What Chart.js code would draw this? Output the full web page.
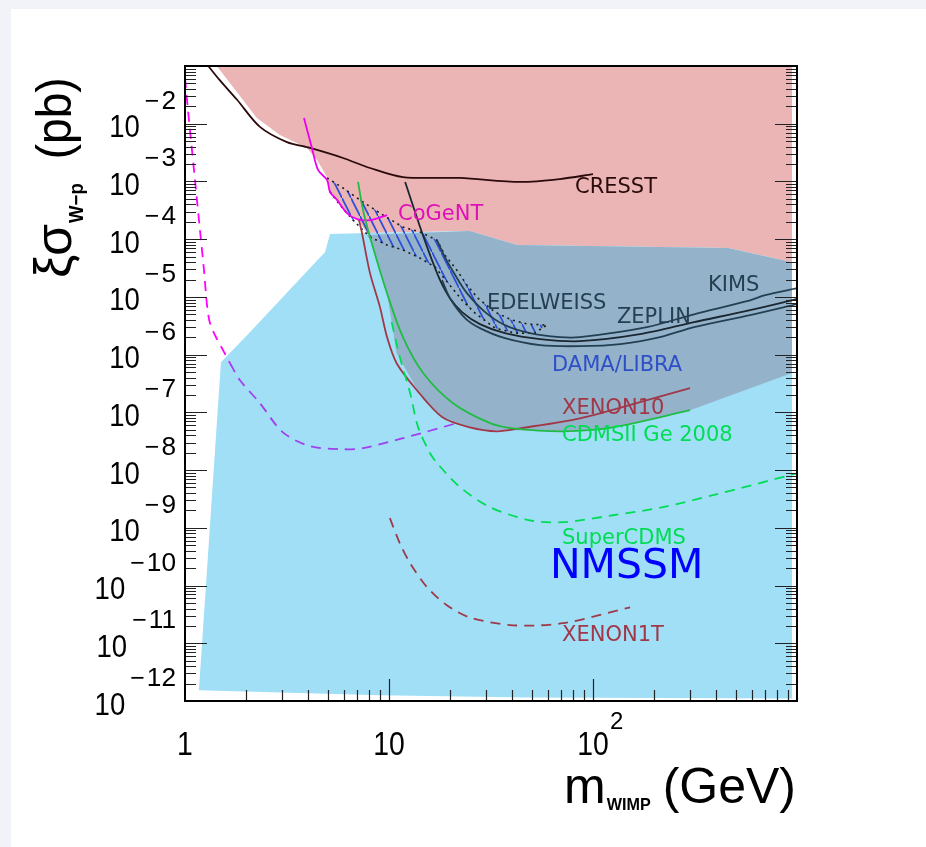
<!DOCTYPE html>
<html>
<head>
<meta charset="utf-8">
<script src="https://cdn.jsdelivr.net/npm/chart.js@4.4.0/dist/chart.umd.min.js"></script>
<style>
  html, body { margin: 0; padding: 0; background: #f2f2f9; }
  #panel { position: absolute; left: 11px; top: 9px; width: 915px; height: 838px; background: #fff; }
  #chart { position: absolute; left: 0; top: 0; }
</style>
</head>
<body>
<div id="panel"></div>
<canvas id="chart" width="926" height="847"></canvas>
<script>
// axis ranges and tick labels (powers of ten)
const xRange = [1, 1000];
const yRange = [1e-12, 1e-1];
const xLabelPowers = [0, 1, 2];
const yLabelPowers = [-2, -3, -4, -5, -6, -7, -8, -9, -10, -11, -12];

// shaded regions: mass (GeV), sigma (pb)
const excludedMass  = [1.43, 1.80, 2.25, 2.92, 3.96, 4.44, 4.97, 5.14, 5.56, 6.22, 6.97, 7.80, 24.9, 42.4, 459, 945, 945];
const excludedSigma = [1e-1, 3.5e-2, 1.26e-2, 6.4e-3, 3.8e-3, 2.35e-3, 1.19e-3, 6.55e-4, 4.8e-4, 2.83e-4, 2.23e-4, 1.28e-4, 1.38e-4, 7.9e-5, 7.0e-5, 4.0e-5, 1e-1];

const nmssmMass  = [1.17, 1.50, 2.08, 4.86, 5.14, 7.80, 24.9, 42.4, 459, 945, 945, 48.0, 9.03];
const nmssmSigma = [1.54e-12, 7.4e-7, 2.45e-6, 6.0e-5, 1.23e-4, 1.28e-4, 1.38e-4, 7.9e-5, 7.0e-5, 4.0e-5, 1.11e-12, 1.15e-12, 1.26e-12];

const overlapMass  = [7.80, 24.9, 42.4, 459, 945, 945, 299, 125, 71.3, 40.5, 31.3, 24.9, 18.4, 14.7, 10.9, 9.78, 8.07];
const overlapSigma = [1.18e-4, 1.38e-4, 7.9e-5, 7.0e-5, 4.0e-5, 4.8e-7, 1.09e-7, 5.5e-8, 4.7e-8, 4.9e-8, 4.9e-8, 5.5e-8, 8.3e-8, 1.63e-7, 1.06e-6, 1.16e-5, 9.6e-5];

const damaMass  = [4.97, 5.95, 7.46, 9.35, 11.7, 14.2, 17.2, 18.8, 21.5, 24.1, 27.3, 33.1, 40.1, 48.0, 59.5,
                   56.2, 52.0, 41.5, 33.1, 26.4, 22.8, 19.5, 16.8, 14.2, 11.7, 9.78, 8.07, 6.66, 5.75, 5.14];
const damaSigma = [1.15e-3, 7.7e-4, 4.4e-4, 2.62e-4, 1.62e-4, 1.33e-4, 9.6e-5, 5.3e-5, 2.91e-5, 1.60e-5, 9.5e-6, 5.45e-6, 3.96e-6, 3.38e-6, 3.25e-6,
                   2.88e-6, 2.36e-6, 2.36e-6, 2.88e-6, 5.24e-6, 8.8e-6, 1.73e-5, 3.3e-5, 4.7e-5, 6.5e-5, 7.9e-5, 1.09e-4, 2.14e-4, 3.9e-4, 6.55e-4];

// exclusion curves
const cresstMass  = [1.30, 1.48, 1.80, 2.33, 3.16, 4.10, 5.95, 8.07, 11.7, 22.3, 43.9, 68.9, 100];
const cresstSigma = [1e-1, 5.7e-2, 2.6e-2, 8.8e-3, 4.8e-3, 3.8e-3, 2.55e-3, 1.71e-3, 1.19e-3, 1.15e-3, 9.8e-4, 1.1e-3, 1.34e-3];

const edelweissMass  = [12.0, 14.2, 15.9, 17.8, 19.9, 22.8, 27.9, 37.0, 55.0, 86.3, 170, 313, 589, 1000];
const edelweissSigma = [9.8e-4, 1.62e-4, 5.3e-5, 1.95e-5, 9.5e-6, 5.45e-6, 3.38e-6, 2.36e-6, 1.86e-6, 1.71e-6, 2.26e-6, 3.66e-6, 5.9e-6, 9.2e-6];

const kimsMass  = [17.2, 18.8, 21.1, 24.1, 29.6, 37.0, 49.1, 68.9, 86.3, 184, 313, 575, 697, 1000];
const kimsSigma = [9.6e-5, 4.9e-5, 2.39e-5, 1.16e-5, 5.45e-6, 3.25e-6, 2.36e-6, 2.01e-6, 2.01e-6, 3.0e-6, 5.0e-6, 8.5e-6, 1.07e-5, 1.42e-5];

const zeplinMass  = [18.2, 19.9, 23.6, 27.9, 37.0, 55.0, 86.3, 136, 213, 313, 589, 1000];
const zeplinSigma = [1.95e-5, 9.5e-6, 4.3e-6, 2.88e-6, 1.93e-6, 1.46e-6, 1.40e-6, 1.52e-6, 2.01e-6, 3.0e-6, 4.84e-6, 7.5e-6];

const cogentMass  = [3.83, 4.19, 4.49, 4.97, 5.14, 5.56, 6.22, 6.97, 8.07, 9.78];
const cogentSigma = [1.26e-2, 3.8e-3, 1.58e-3, 1.06e-3, 6.55e-4, 4.8e-4, 2.83e-4, 2.23e-4, 2.14e-4, 2.62e-4];

const xenon10Mass  = [7.13, 7.37, 8.07, 9.03, 9.78, 10.9, 13.7, 18.2, 24.9, 33.8, 43.9, 86.3, 184, 299];
const xenon10Sigma = [2.14e-4, 1.28e-4, 2.58e-5, 6.65e-6, 2.01e-6, 7.1e-7, 2.42e-7, 8.3e-8, 5.5e-8, 4.7e-8, 5.3e-8, 7.9e-8, 1.63e-7, 2.63e-7];

const cdmsMass  = [7.05, 7.46, 8.07, 9.78, 11.7, 14.7, 20.6, 31.3, 40.5, 71.3, 125, 299];
const cdmsSigma = [9.8e-4, 3.2e-4, 1.09e-4, 1.16e-5, 2.01e-6, 4.8e-7, 1.44e-7, 6.5e-8, 5.3e-8, 4.7e-8, 5.5e-8, 1.09e-7];

// projected sensitivities (dashed)
const lowMassMass  = [1.0, 1.034, 1.082, 1.132, 1.184, 1.239, 1.282, 1.326, 1.419, 1.535, 1.662];
const lowMassSigma = [6.2e-2, 1.73e-2, 3.5e-3, 7.1e-4, 1.44e-4, 2.9e-5, 7.2e-6, 3.5e-6, 2.0e-6, 1.2e-6, 7.1e-7];

const futureMass  = [1.662, 1.86, 2.33, 3.02, 4.10, 5.95, 7.46, 11.7, 21.5];
const futureSigma = [7.1e-7, 3.6e-7, 1.44e-7, 4.5e-8, 2.6e-8, 2.3e-8, 2.4e-8, 3.57e-8, 6.5e-8];

const superCdmsMass  = [10.3, 11.3, 12.7, 13.9, 15.9, 17.2, 22.3, 31.3, 49.1, 71.3, 125, 220, 387, 1000];
const superCdmsSigma = [3.66e-6, 9.05e-7, 2.15e-7, 5.5e-8, 1.96e-8, 1.32e-8, 5.06e-9, 2.28e-9, 1.35e-9, 1.25e-9, 1.65e-9, 2.28e-9, 3.67e-9, 8.8e-9];

const xenon1tMass  = [10.1, 11.3, 12.7, 15.4, 19.2, 24.9, 40.5, 71.3, 152];
const xenon1tSigma = [1.47e-9, 5.4e-10, 2.43e-10, 9.3e-11, 4.57e-11, 2.8e-11, 2.05e-11, 2.23e-11, 4.2e-11];

// curve labels
const labelTexts = ['CoGeNT', 'CRESST', 'KIMS', 'EDELWEISS', 'ZEPLIN', 'DAMA/LIBRA', 'XENON10', 'CDMSII Ge 2008', 'SuperCDMS', 'NMSSM', 'XENON1T'];
const labelMass  = [11.07, 81.6, 366, 30.2, 131, 63, 70.5, 70.5, 70.5, 61.5, 70.5];
const labelSigma = [2.62e-4, 8.0e-4, 1.6e-5, 7.8e-6, 4.47e-6, 6.6e-7, 1.18e-7, 4.0e-8, 6.6e-10, 2.07e-10, 1.38e-11];
const labelColors = ['#e010b8', '#2a0a0a', '#253f52', '#253f52', '#253f52', '#2f4fc8', '#a03848', '#00dd55', '#00dd55', '#0000ff', '#a03848'];

function pts(xs, ys) {
    return xs.map((x, i) => ({ x: x, y: ys[i] }));
}

function hatchPattern() {
    const c = document.createElement('canvas');
    c.width = 9; c.height = 18;
    const g = c.getContext('2d');
    g.strokeStyle = '#2c4ed8';
    g.lineWidth = 1.7;
    g.beginPath();
    g.moveTo(-1, -2); g.lineTo(10, 20);
    g.stroke();
    return g.createPattern(c, 'repeat');
}

function region(data, color, order) {
    return { data: data, showLine: true, pointRadius: 0, borderWidth: 0, borderColor: color,
             backgroundColor: color, fill: 'shape', tension: 0, order: order };
}

function curve(data, color, width, dash, order) {
    return { data: data, showLine: true, pointRadius: 0, borderWidth: width, borderColor: color,
             borderDash: dash || [], fill: false, tension: 0.3, order: order };
}

// draws a row of text runs (used for 10^n labels and axis titles)
function drawRuns(ctx, runs, x, y, align, angle) {
    ctx.save();
    ctx.translate(x, y);
    ctx.rotate(angle || 0);
    let total = 0;
    runs.forEach(r => {
        ctx.font = r.font;
        r.w = ctx.measureText(r.text).width * (r.sx || 1) + (r.gap || 0);
        total += r.w;
    });
    let cx = align === 'right' ? -total : (align === 'center' ? -total / 2 : 0);
    runs.forEach(r => {
        ctx.save();
        ctx.font = r.font;
        ctx.fillStyle = r.color || '#000';
        ctx.textBaseline = 'alphabetic';
        ctx.textAlign = 'left';
        ctx.translate(cx + (r.gap || 0), r.dy || 0);
        ctx.scale(r.sx || 1, 1);
        ctx.fillText(r.text, 0, 0);
        ctx.restore();
        cx += r.w;
    });
    ctx.restore();
}

const rootAxes = {
    id: 'rootAxes',
    afterDatasetsDraw(chart) {
        const ctx = chart.ctx;
        const xs = chart.scales.x, ys = chart.scales.y;
        ctx.save();
        labelTexts.forEach((t, i) => {
            const big = t === 'NMSSM';
            ctx.font = big ? '41px "DejaVu Sans"' : '21px "DejaVu Sans"';
            ctx.fillStyle = labelColors[i];
            ctx.textAlign = 'left';
            ctx.textBaseline = 'middle';
            ctx.fillText(t, xs.getPixelForValue(labelMass[i]), ys.getPixelForValue(labelSigma[i]));
        });
        ctx.restore();
    },
    afterDraw(chart) {
        const ctx = chart.ctx;
        const a = chart.chartArea;
        const xs = chart.scales.x, ys = chart.scales.y;
        ctx.save();
        ctx.strokeStyle = '#222';
        ctx.lineWidth = 1.2;
        ctx.beginPath();
        // x ticks along the bottom
        for (let p = 0; p < 3; p++) {
            for (let m = 1; m < 10; m++) {
                const v = m * Math.pow(10, p);
                if (v <= xRange[0]) continue;
                const px = Math.round(xs.getPixelForValue(v)) + 0.5;
                const len = m === 1 ? 22 : 11;
                ctx.moveTo(px, a.bottom); ctx.lineTo(px, a.bottom - len);
            }
        }
        // y ticks, left and right
        for (let p = -12; p < -1; p++) {
            for (let m = 1; m < 10; m++) {
                const v = m * Math.pow(10, p);
                if (v <= yRange[0]) continue;
                const py = Math.round(ys.getPixelForValue(v)) + 0.5;
                const len = m === 1 ? 22 : 11;
                ctx.moveTo(a.left, py); ctx.lineTo(a.left + len, py);
                ctx.moveTo(a.right, py); ctx.lineTo(a.right - len, py);
            }
        }
        ctx.stroke();
        // frame
        ctx.strokeStyle = '#000';
        ctx.lineWidth = 2;
        ctx.strokeRect(a.left, a.top, a.right - a.left, a.bottom - a.top);

        // y tick labels
        yLabelPowers.forEach(p => {
            const py = ys.getPixelForValue(Math.pow(10, p));
            drawRuns(ctx, [
                { text: '10', font: '32px "Liberation Sans"', sx: 0.86, dy: 13.5 },
                { text: '\u2212', font: '25px "Liberation Sans"', sx: 1.0, dy: -15, gap: 5 },
                { text: String(Math.abs(p)), font: '25px "Liberation Sans"', sx: 1.05, dy: -15, gap: 2 }
            ], 176, py, 'right');
        });
        // x tick labels
        xLabelPowers.forEach(p => {
            const px = xs.getPixelForValue(Math.pow(10, p));
            const base = p === 0 ? '1' : '10';
            drawRuns(ctx, [{ text: base, font: '33px "Liberation Sans"', sx: 0.86 }], px, 754.5, 'center');
            if (p > 1) {
                drawRuns(ctx, [{ text: String(p), font: '24px "Liberation Sans"', sx: 1.0 }], px + 17, 729, 'left');
            }
        });
        // axis titles
        drawRuns(ctx, [
            { text: 'm', font: '50px "Liberation Sans"', sx: 1.0 },
            { text: 'WIMP', font: 'bold 17px "Liberation Sans"', sx: 0.95, dy: 7, gap: 1 },
            { text: '(GeV)', font: '50px "Liberation Sans"', sx: 1.0, gap: 12 }
        ], 796, 803, 'right');
        drawRuns(ctx, [
            { text: '\u03be\u03c3', font: '52px "Liberation Sans"', sx: 1.0 },
            { text: 'W\u2212p', font: 'bold 20px "Liberation Sans"', sx: 0.93, dy: 12, gap: 1 },
            { text: '(pb)', font: '50px "Liberation Sans"', sx: 0.92, gap: 24 }
        ], 71, 278, 'left', -Math.PI / 2);
        ctx.restore();
    }
};

const datasets = [
    region(pts(excludedMass, excludedSigma), '#ebb5b5', 100),
    region(pts(nmssmMass, nmssmSigma), '#a1dff7', 99),
    region(pts(overlapMass, overlapSigma), '#94b3ca', 98),
    { data: pts(damaMass, damaSigma), showLine: true, pointRadius: 0, borderWidth: 1.6, borderColor: '#1a1a1a',
      borderDash: [2, 4], backgroundColor: hatchPattern(), fill: 'shape', tension: 0, order: 97 },
    curve(pts(cresstMass, cresstSigma), '#2a0a0a', 1.8, null, 10),
    curve(pts(edelweissMass, edelweissSigma), '#1b2730', 1.8, null, 9),
    curve(pts(kimsMass, kimsSigma), '#253f52', 1.8, null, 8),
    curve(pts(zeplinMass, zeplinSigma), '#253f52', 1.8, null, 7),
    curve(pts(cogentMass, cogentSigma), '#ee00ee', 1.8, null, 6),
    curve(pts(xenon10Mass, xenon10Sigma), '#a03848', 1.8, null, 5),
    curve(pts(cdmsMass, cdmsSigma), '#22bb44', 1.8, null, 4),
    curve(pts(lowMassMass, lowMassSigma), '#ff00ff', 1.8, [10, 7], 3),
    curve(pts(futureMass, futureSigma), '#a040f0', 1.8, [10, 7], 3),
    curve(pts(superCdmsMass, superCdmsSigma), '#00dd55', 1.8, [10, 7], 2),
    curve(pts(xenon1tMass, xenon1tSigma), '#a03848', 1.8, [10, 7], 1)
];

new Chart(document.getElementById('chart'), {
    type: 'scatter',
    data: { datasets: datasets },
    options: {
        responsive: false,
        animation: false,
        devicePixelRatio: 1,
        layout: { padding: { left: 185, top: 66, right: 129, bottom: 146 } },
        plugins: { legend: { display: false }, tooltip: { enabled: false } },
        scales: {
            x: { type: 'logarithmic', min: xRange[0], max: xRange[1], display: false },
            y: { type: 'logarithmic', min: yRange[0], max: yRange[1], display: false }
        }
    },
    plugins: [rootAxes]
});
</script>
</body>
</html>
